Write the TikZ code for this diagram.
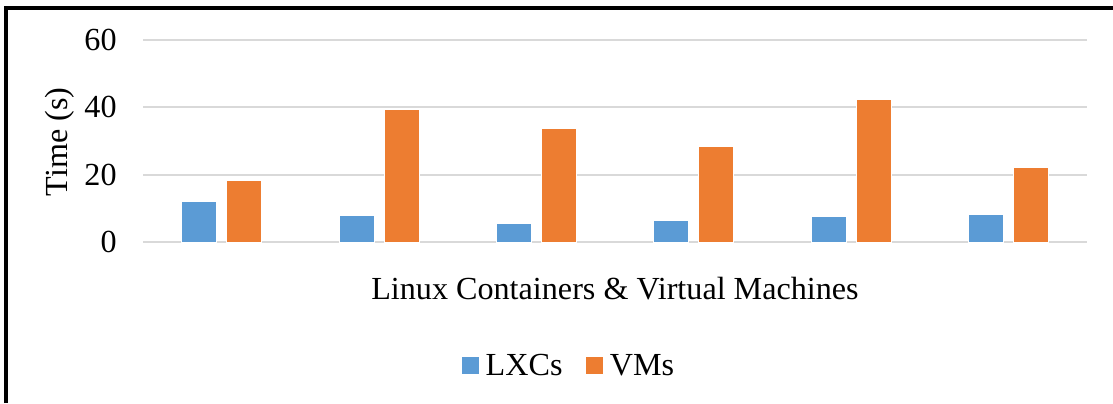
\documentclass[tikz,border=0pt]{standalone}
\usepackage{fontspec}
\setmainfont{Liberation Serif}
\usetikzlibrary{positioning}

\definecolor{lxcblue}{HTML}{5B9BD5}
\definecolor{vmorange}{HTML}{ED7D31}
\definecolor{gridgray}{HTML}{D9D9D9}

\begin{document}
\begin{tikzpicture}[x=0.02cm,y=-0.02cm,
    font=\fontsize{18.3}{21}\selectfont,
    bar/.style={draw=white, line width=0.5pt},
    tick/.style={anchor=east, inner sep=0pt},
    legbox/.style={minimum size=0.34cm, inner sep=0pt}]

\useasboundingbox (0,0) rectangle (1113,403);

% frame
\draw[line width=1.8pt] (6,403) -- (6,8) -- (1113,8);

% grid and ticks
\foreach \v in {0,20,40,60}
{
    \draw[gridgray, line width=1.1pt] (143,{242-3.3667*\v}) -- (1087,{242-3.3667*\v});
    \node[tick] (tick\v) at (117,{242-3.3667*\v}) {\v};
}

% bars
\foreach \i/\a/\b in {1/12.0/18.2, 2/7.8/39.4, 3/5.6/33.6, 4/6.5/28.5, 5/7.5/42.2, 6/8.2/22.1}
{
    \pgfmathsetmacro\cx{143+157.33*(\i-0.5)}
    \fill[lxcblue] (\cx-40,242) rectangle (\cx-5,{242-3.3667*\a});
    \draw[bar] (\cx-40,242) rectangle (\cx-5,{242-3.3667*\a});
    \fill[vmorange] (\cx+5,242) rectangle (\cx+40,{242-3.3667*\b});
    \draw[bar] (\cx+5,242) rectangle (\cx+40,{242-3.3667*\b});
}

\node[rotate=90] (ylabel) at (60,142) {Time (s)};
\node (xlabel) at (615,289) {Linux Containers \& Virtual Machines};

% legend
\node[legbox, fill=lxcblue] (lxcbox) at (470.5,365) {};
\node[right=0.12cm of lxcbox, inner sep=0pt] (lxctext) {LXCs};
\node[legbox, fill=vmorange, right=0.46cm of lxctext] (vmbox) {};
\node[right=0.12cm of vmbox, inner sep=0pt] (vmtext) {VMs};

\end{tikzpicture}
\end{document}
